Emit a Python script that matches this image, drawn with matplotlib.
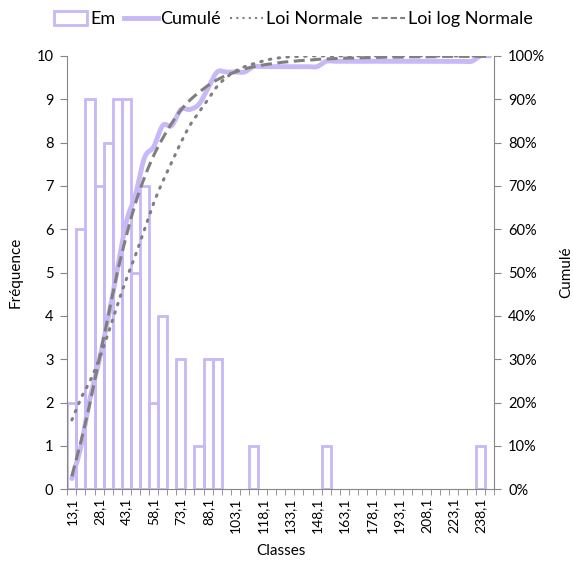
import numpy as np
import matplotlib
matplotlib.use("Agg")
import matplotlib.pyplot as plt
from matplotlib.patches import Patch
from matplotlib.lines import Line2D
from matplotlib.ticker import FuncFormatter

plt.rcParams['font.family'] = ['Lato', 'DejaVu Sans']

# classes (bornes), effectifs
classes = [13.1, 18.1, 23.1, 28.1, 33.1, 38.1, 43.1, 48.1, 53.1, 58.1,
           63.1, 68.1, 73.1, 78.1, 83.1, 88.1, 93.1, 98.1, 103.1, 108.1,
           113.1, 118.1, 123.1, 128.1, 133.1, 138.1, 143.1, 148.1, 153.1, 158.1,
           163.1, 168.1, 173.1, 178.1, 183.1, 188.1, 193.1, 198.1, 203.1, 208.1,
           213.1, 218.1, 223.1, 228.1, 233.1, 238.1, 243.1]
effectifs = [2, 6, 9, 7, 8, 9, 9, 5, 7, 2,
             4, 0, 3, 0, 1, 3, 3, 0, 0, 0,
             1, 0, 0, 0, 0, 0, 0, 0, 1, 0,
             0, 0, 0, 0, 0, 0, 0, 0, 0, 0,
             0, 0, 0, 0, 0, 1, 0]

# lois ajustees
loi_normale = [0.16, 0.21, 0.25, 0.30, 0.36, 0.425, 0.485, 0.54, 0.60, 0.66,
               0.71, 0.755, 0.80, 0.84, 0.87, 0.90, 0.93, 0.95, 0.965, 0.975,
               0.982, 0.988, 0.993, 0.996, 0.998, 0.999, 1.0, 1.0, 1.0, 1.0,
               1.0, 1.0, 1.0, 1.0, 1.0, 1.0, 1.0, 1.0, 1.0, 1.0,
               1.0, 1.0, 1.0, 1.0, 1.0, 1.0, 1.0]
loi_lognormale = [0.03, 0.11, 0.20, 0.30, 0.40, 0.50, 0.585, 0.66, 0.72, 0.77,
                  0.81, 0.845, 0.875, 0.898, 0.916, 0.932, 0.945, 0.955, 0.963, 0.97,
                  0.975, 0.979, 0.982, 0.985, 0.987, 0.989, 0.99, 0.992, 0.993, 0.994,
                  0.995, 0.995, 0.996, 0.996, 0.997, 0.997, 0.997, 0.998, 0.998, 0.998,
                  0.998, 0.999, 0.999, 0.999, 0.999, 0.999, 0.999]

violet = '#C8B8F6'
gris = '#7F7F7F'
axe = '#868686'


def lisse(x, y, n=16):
    # courbe lissee facon excel (catmull-rom -> bezier)
    x = np.asarray(x, float)
    y = np.asarray(y, float)
    px = np.concatenate([[x[0]], x, [x[-1]]])
    py = np.concatenate([[y[0]], y, [y[-1]]])
    xs, ys = [], []
    t = np.linspace(0, 1, n)
    for i in range(1, len(px) - 2):
        p0 = np.array([px[i], py[i]])
        p3 = np.array([px[i + 1], py[i + 1]])
        c1 = p0 + (p3 - np.array([px[i - 1], py[i - 1]])) / 6
        c2 = p3 - (np.array([px[i + 2], py[i + 2]]) - p0) / 6
        b = ((1 - t) ** 3)[:, None] * p0 + (3 * (1 - t) ** 2 * t)[:, None] * c1 \
            + (3 * (1 - t) * t ** 2)[:, None] * c2 + (t ** 3)[:, None] * p3
        xs.extend(b[:, 0])
        ys.extend(b[:, 1])
    return np.array(xs), np.array(ys)


idx = np.arange(len(classes))
cumule = np.cumsum(effectifs) / sum(effectifs)

fig = plt.figure(figsize=(5.73, 5.65), dpi=100)
ax = fig.add_axes([0.1175, 0.134, 0.745, 0.767])

non_nuls = [i for i in idx if effectifs[i] > 0]
ax.bar(non_nuls, [effectifs[i] for i in non_nuls], width=1.0, facecolor='none',
       edgecolor=violet, linewidth=2, zorder=2)

ax.set_xlim(-0.5, len(classes) - 0.5)
ax.set_ylim(0, 10)
ax.set_yticks(range(0, 11))
ax.set_xticks(idx[::3])
ax.set_xticklabels([('%.1f' % c).replace('.', ',') for c in classes[::3]],
                   rotation=90, fontsize=10)
ax.set_xticks(np.arange(-0.5, len(classes), 1), minor=True)
ax.tick_params(axis='x', which='major', length=0, pad=6)
ax.tick_params(axis='x', which='minor', length=4, color=axe)
ax.tick_params(axis='y', length=5, color=axe, labelsize=10.5, pad=5)
for s in ['top', 'right']:
    ax.spines[s].set_visible(False)
for s in ['left', 'bottom']:
    ax.spines[s].set_color(axe)
ax.set_ylabel('Fréquence', fontsize=11, labelpad=10)
ax.set_xlabel('Classes', fontsize=11, labelpad=8)

ax2 = ax.twinx()
ax2.set_ylim(0, 1)
ax2.set_yticks(np.arange(0, 1.01, 0.1))
ax2.yaxis.set_major_formatter(FuncFormatter(lambda v, p: '%d%%' % round(v * 100)))
ax2.tick_params(axis='y', length=5, color=axe, labelsize=10.5, pad=5)
for s in ['top', 'left', 'bottom']:
    ax2.spines[s].set_visible(False)
ax2.spines['right'].set_color(axe)
ax2.set_ylabel('Cumulé', fontsize=11, labelpad=10)

xc, yc = lisse(idx, cumule)
ax2.plot(xc, yc, color=violet, linewidth=3.5, solid_capstyle='round', zorder=3)
xn, yn = lisse(idx, loi_normale)
ax2.plot(xn, yn, color=gris, linewidth=2.2, linestyle=(0, (0.5, 2.4)),
         dash_capstyle='round', zorder=4)
xl, yl = lisse(idx, loi_lognormale)
ax2.plot(xl, yl, color=gris, linewidth=2.2, linestyle=(0, (3.6, 1.8)), zorder=4)

poignees = [Patch(facecolor='white', edgecolor=violet, linewidth=2),
            Line2D([], [], color=violet, linewidth=3.5),
            Line2D([], [], color=gris, linewidth=1.5, linestyle=(0, (1, 2))),
            Line2D([], [], color=gris, linewidth=1.5, linestyle=(0, (3, 1.5)))]
fig.legend(poignees, ['Em', 'Cumulé', 'Loi Normale', 'Loi log Normale'],
           loc='center', bbox_to_anchor=(0.512, 0.966), ncol=4, frameon=False,
           fontsize=13, handlelength=1.85, handletextpad=0.15, columnspacing=0.5,
           handleheight=0.8)

fig.savefig('out.png', dpi=100)
